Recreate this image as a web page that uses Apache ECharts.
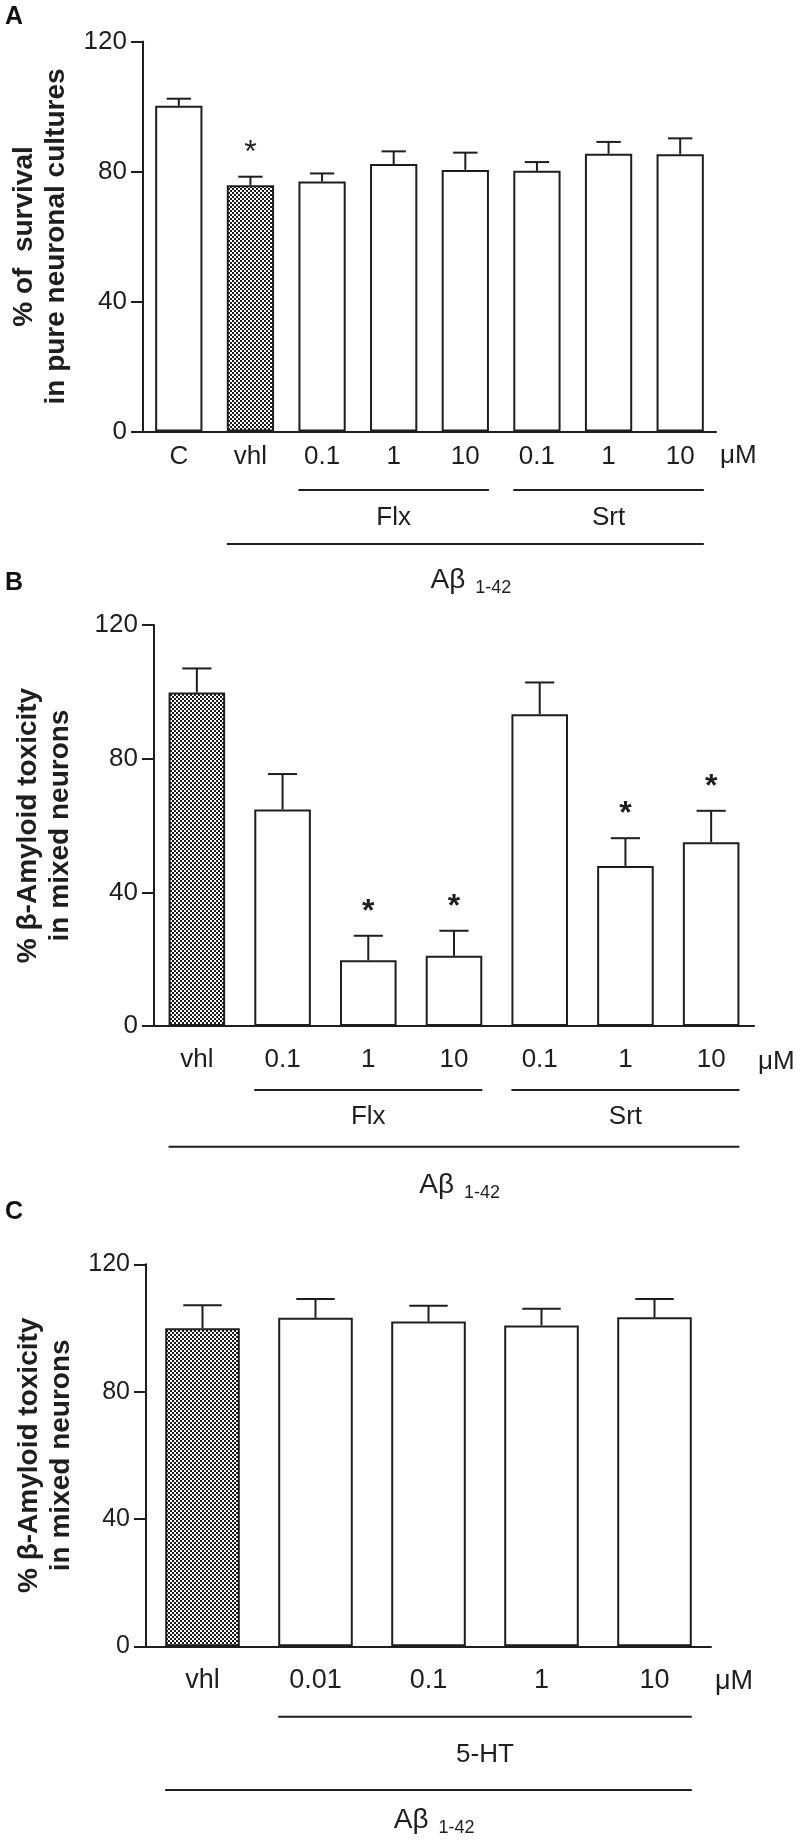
<!DOCTYPE html>
<html><head><meta charset="utf-8">
<script src="https://cdn.jsdelivr.net/npm/echarts@6/dist/echarts.min.js"></script>
<style>html,body{margin:0;padding:0;background:#fff}#c{width:800px;height:1840px}</style>
</head><body><div id="c"></div>
<script>
// ---------- Panel A ----------
const catsA = ['C', 'vhl', '0.1', '1', '10', '0.1', '1', '10'];
const valsA = [100.2, 75.8, 76.9, 82.3, 80.5, 80.2, 85.5, 85.3];
const errsA = [2.2, 2.6, 2.5, 3.9, 5.3, 2.7, 3.6, 4.9];
const sigA = [0, 1, 0, 0, 0, 0, 0, 0];
const patternA = [1];
const bracketsA = [[2, 4, 'Flx'], [5, 7, 'Srt']];
const outerA = [1, 7];
const titleA = '% of  survival\nin pure neuronal cultures';

// ---------- Panel B ----------
const catsB = ['vhl', '0.1', '1', '10', '0.1', '1', '10'];
const valsB = [99.8, 64.8, 19.7, 21.0, 93.3, 47.9, 55.0];
const errsB = [7.2, 10.6, 7.3, 7.5, 9.5, 8.3, 9.4];
const sigB = [0, 0, 1, 1, 0, 1, 1];
const patternB = [0];
const bracketsB = [[1, 3, 'Flx'], [4, 6, 'Srt']];
const outerB = [0, 6];
const titleB = '% β-Amyloid toxicity\nin mixed neurons';

// ---------- Panel C ----------
const catsC = ['vhl', '0.01', '0.1', '1', '10'];
const valsC = [99.9, 103.2, 102.0, 100.8, 103.4];
const errsC = [7.2, 5.9, 5.0, 5.2, 5.7];
const sigC = [0, 0, 0, 0, 0];
const patternC = [0];
const bracketsC = [[1, 4, '5-HT']];
const outerC = [0, 4];
const titleC = '% β-Amyloid toxicity\nin mixed neurons';

const yMin = 0, yMax = 120, yStep = 40;
const unitLabel = 'μM';
const outerLabel = ['Aβ', '1-42'];
const panelLetters = ['A', 'B', 'C'];

const FF = '"Liberation Sans", Arial, Helvetica, sans-serif';
const INK = '#1e1e1e';

function checker() {
  const c = document.createElement('canvas');
  c.width = 4; c.height = 4;
  const g = c.getContext('2d');
  g.fillStyle = '#ffffff'; g.fillRect(0, 0, 4, 4);
  g.fillStyle = '#1a1a1a';
  g.fillRect(0, 0, 2, 2); g.fillRect(2, 2, 2, 2);
  return c;
}
const pat = { image: checker(), repeat: 'repeat' };

const panels = [
  { cats: catsA, vals: valsA, errs: errsA, sig: sigA, pattern: patternA, brackets: bracketsA, outer: outerA, title: titleA,
    grid: { left: 137, top: 41.5, width: 579, height: 390 }, xMargin: 12, yFont: 26, xFont: 26, nameGap: 71,
    lay: { line1: 58.5, lab1: 86.5, line2: 112.5, lab2: 148.5, unit: 24.5 }, letterY: 17, star: { size: 32, w: 'normal' } },
  { cats: catsB, vals: valsB, errs: errsB, sig: sigB, pattern: patternB, brackets: bracketsB, outer: outerB, title: titleB,
    grid: { left: 154, top: 625, width: 600, height: 401 }, xMargin: 21, yFont: 26, xFont: 26, nameGap: 78,
    lay: { line1: 64, lab1: 90.7, line2: 120.7, lab2: 159, unit: 35.7 }, letterY: 583, star: { size: 32, w: 'bold' } },
  { cats: catsC, vals: valsC, errs: errsC, sig: sigC, pattern: patternC, brackets: bracketsC, outer: outerC, title: titleC,
    grid: { left: 146, top: 1264.3, width: 565, height: 382 }, xMargin: 21, yFont: 25, xFont: 27, nameGap: 69,
    lay: { line1: 70.4, lab1: 108.7, line2: 143.7, lab2: 173.7, unit: 35.7 }, letterY: 1212, star: { size: 32, w: 'bold' } }
];

function errRender(capFrac) {
  return function (params, api) {
    const i = api.value(0), v = api.value(1), e = api.value(2);
    const a = api.coord([i, v]), b = api.coord([i, v + e]);
    const half = api.size([1, 0])[0] * capFrac / 2;
    const st = { stroke: INK, lineWidth: 2 };
    return { type: 'group', children: [
      { type: 'line', shape: { x1: a[0], y1: a[1], x2: b[0], y2: b[1] }, style: st },
      { type: 'line', shape: { x1: b[0] - half, y1: b[1], x2: b[0] + half, y2: b[1] }, style: st }
    ] };
  };
}
function starRender(size, weight) {
  return function (params, api) {
    const p = api.coord([api.value(0), api.value(1)]);
    return { type: 'text', x: p[0], y: p[1] - 24,
      style: { text: '*', fontSize: size, fontWeight: weight, fontFamily: FF, fill: INK,
        align: 'center', verticalAlign: 'middle', textAlign: 'center', textVerticalAlign: 'middle' } };
  };
}

const option = { animation: false, backgroundColor: '#fff', grid: [], xAxis: [], yAxis: [], series: [] };
panels.forEach((p, gi) => {
  option.grid.push(Object.assign({ containLabel: false }, p.grid));
  option.xAxis.push({
    type: 'category', gridIndex: gi, data: p.cats,
    axisLine: { lineStyle: { color: INK, width: 2 } }, axisTick: { show: false },
    axisLabel: { fontSize: p.xFont, color: INK, fontFamily: FF, margin: p.xMargin, interval: 0 },
    splitLine: { show: false }
  });
  option.yAxis.push({
    type: 'value', gridIndex: gi, min: yMin, max: yMax, interval: yStep,
    axisLine: { show: true, lineStyle: { color: INK, width: 2 } },
    axisTick: { show: true, length: 12, lineStyle: { color: INK, width: 2 } },
    axisLabel: { fontSize: p.yFont, color: INK, fontFamily: FF, margin: 16 },
    splitLine: { show: false },
    name: p.title, nameLocation: 'middle', nameRotate: 90, nameGap: p.nameGap,
    nameTextStyle: { fontSize: 28, fontWeight: 'bold', color: INK, fontFamily: FF, lineHeight: 32 }
  });
  option.series.push({
    type: 'bar', xAxisIndex: gi, yAxisIndex: gi, barWidth: '66%', z: 2,
    data: p.vals.map((v, i) => ({ value: v, itemStyle: { color: p.pattern.includes(i) ? pat : '#ffffff' } })),
    itemStyle: { borderColor: INK, borderWidth: 2 }
  });
  option.series.push({
    type: 'custom', xAxisIndex: gi, yAxisIndex: gi, z: 3, renderItem: errRender(0.34),
    data: p.vals.map((v, i) => [i, v, p.errs[i]])
  });
  const stars = [];
  p.sig.forEach((s, i) => { if (s) stars.push([i, p.vals[i] + p.errs[i]]); });
  option.series.push({
    type: 'custom', xAxisIndex: gi, yAxisIndex: gi, z: 4, renderItem: starRender(p.star.size, p.star.w), data: stars
  });
});

const chart = echarts.init(document.getElementById('c'), null, { renderer: 'canvas' });
chart.setOption(option);

// annotations positioned from the library's own scales
const graphic = [];
const ls = { stroke: INK, lineWidth: 2 };
panels.forEach((p, gi) => {
  const pt = (i, v) => chart.convertToPixel({ xAxisIndex: gi, yAxisIndex: gi }, [i, v]);
  const band = pt(1, 0)[0] - pt(0, 0)[0];
  const bw = band * 0.66;
  const y0 = pt(0, 0)[1];
  const L = p.lay;
  p.brackets.forEach(b => {
    const x1 = pt(b[0], 0)[0] - bw / 2, x2 = pt(b[1], 0)[0] + bw / 2;
    graphic.push({ type: 'line', shape: { x1, y1: y0 + L.line1, x2, y2: y0 + L.line1 }, style: ls });
    graphic.push({ type: 'text', x: (x1 + x2) / 2, y: y0 + L.lab1,
      style: { text: b[2], fontSize: 26, fontFamily: FF, fill: INK, align: 'center', verticalAlign: 'middle' } });
  });
  const ox1 = pt(p.outer[0], 0)[0] - bw / 2, ox2 = pt(p.outer[1], 0)[0] + bw / 2;
  graphic.push({ type: 'line', shape: { x1: ox1, y1: y0 + L.line2, x2: ox2, y2: y0 + L.line2 }, style: ls });
  const cx = (ox1 + ox2) / 2 + 6;
  graphic.push({ type: 'text', x: cx - 6, y: y0 + L.lab2,
    style: { text: outerLabel[0], fontSize: 28, fontFamily: FF, fill: INK, align: 'right', verticalAlign: 'middle' } });
  graphic.push({ type: 'text', x: cx + 4, y: y0 + L.lab2 + 8,
    style: { text: outerLabel[1], fontSize: 18, fontFamily: FF, fill: INK, align: 'left', verticalAlign: 'middle' } });
  const xEnd = p.grid.left + p.grid.width;
  graphic.push({ type: 'text', x: xEnd + 4, y: y0 + L.unit,
    style: { text: unitLabel, fontSize: p.xFont, fontFamily: FF, fill: INK, align: 'left', verticalAlign: 'middle' } });
  graphic.push({ type: 'text', x: 5, y: p.letterY,
    style: { text: panelLetters[gi], fontSize: 25, fontWeight: 'bold', fontFamily: FF, fill: '#111', align: 'left', verticalAlign: 'middle' } });
});
chart.setOption({ graphic });
</script></body></html>
